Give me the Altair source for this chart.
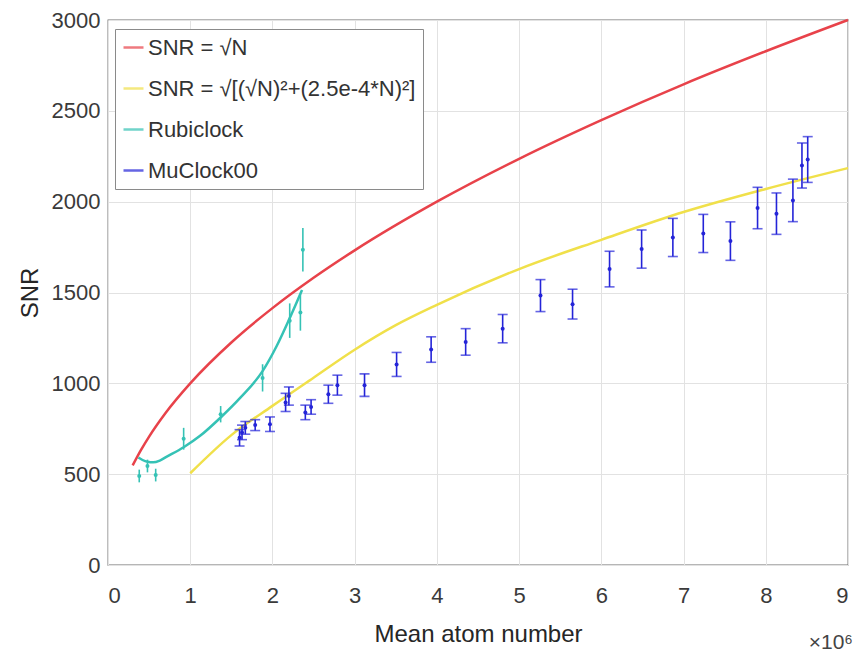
import altair as alt
import pandas as pd

# ---- labels ----
L_SQRT = "SNR = √N"
L_TECH = "SNR = √[(√N)²+(2.5e-4*N)²]"
L_RUBI = "Rubiclock"
L_MU = "MuClock00"
series_order = [L_SQRT, L_TECH, L_RUBI, L_MU]
series_colors = ["#e8424a", "#f0e04a", "#35c2b5", "#2424d8"]

# ---- curves (N in units of 1e6) ----
red_N = [0.3, 0.4, 0.5, 0.7, 1.0, 1.5, 2.0, 2.5, 3.0, 4.0, 5.0, 6.0, 7.0, 8.0, 9.0]
red_SNR = [548, 632, 707, 837, 1000, 1225, 1414, 1581, 1732, 2000, 2236, 2449, 2646, 2828, 3000]

yel_N = [1.0, 1.5, 2.0, 2.5, 3.0, 3.5, 4.0, 5.0, 6.0, 7.0, 8.0, 9.0]
yel_SNR = [505, 715, 876, 1031, 1185, 1320, 1432, 1629, 1790, 1943, 2070, 2185]

fit_N = [0.37, 0.42, 0.48, 0.55, 0.63, 0.71, 0.92, 1.12, 1.37, 1.61, 1.88, 2.05, 2.21, 2.36]
fit_SNR = [592, 578, 568, 565, 575, 595, 648, 711, 812, 921, 1067, 1204, 1359, 1514]

# ---- measured points ----
rubi_N = [0.38, 0.48, 0.58, 0.92, 1.37, 1.88, 2.21, 2.34, 2.37]
rubi_SNR = [490, 545, 495, 695, 830, 1030, 1345, 1390, 1735]
rubi_err = [35, 35, 35, 60, 45, 75, 95, 100, 120]

mu_N = [1.60, 1.63, 1.67, 1.79, 1.97, 2.16, 2.20, 2.40, 2.47, 2.68, 2.79, 3.12, 3.51,
        3.93, 4.35, 4.80, 5.26, 5.65, 6.10, 6.49, 6.87, 7.24, 7.57, 7.90, 8.13, 8.33,
        8.44, 8.51]
mu_SNR = [700, 730, 755, 770, 775, 895, 930, 840, 870, 940, 990, 990, 1104, 1186,
          1228, 1301, 1483, 1436, 1629, 1739, 1803, 1825, 1783, 1965, 1934, 2007,
          2199, 2232]
mu_err = [45, 40, 35, 30, 40, 50, 50, 40, 40, 50, 55, 62, 66, 70, 73, 78, 88, 82,
          98, 105, 105, 105, 106, 114, 114, 117, 124, 126]

x_ticks = [0, 1, 2, 3, 4, 5, 6, 7, 8, 9]
y_ticks = [0, 500, 1000, 1500, 2000, 2500, 3000]

# ---- tables ----
curves = pd.concat([
    pd.DataFrame({"N": red_N, "SNR": red_SNR, "series": L_SQRT, "curve": "a"}),
    pd.DataFrame({"N": yel_N, "SNR": yel_SNR, "series": L_TECH, "curve": "b"}),
    pd.DataFrame({"N": fit_N, "SNR": fit_SNR, "series": L_RUBI, "curve": "c"}),
], ignore_index=True)

points = pd.concat([
    pd.DataFrame({"N": rubi_N, "SNR": rubi_SNR, "err": rubi_err, "series": L_RUBI}),
    pd.DataFrame({"N": mu_N, "SNR": mu_SNR, "err": mu_err, "series": L_MU}),
], ignore_index=True)

FONT = "Liberation Sans"

x_axis = alt.Axis(values=x_ticks, title="Mean atom number", labelPadding=20,
                  titlePadding=16, grid=True, format="d")
y_axis = alt.Axis(values=y_ticks, title="SNR", labelPadding=8, titlePadding=9,
                  grid=True, format="d")
xs = alt.Scale(domain=[0, 9], nice=False)
ys = alt.Scale(domain=[0, 3000], nice=False)

legend = alt.Legend(
    title=None, orient="none", legendX=7, legendY=9,
    symbolType="stroke", symbolStrokeWidth=2.5, symbolSize=400,
    labelFont=FONT, labelFontSize=22, labelColor="#333333", labelLimit=500,
    labelOffset=3, rowPadding=18, padding=7,
    fillColor="white", strokeColor="#8a8a8a", cornerRadius=0,
)
color = alt.Color("series:N", scale=alt.Scale(domain=series_order, range=series_colors),
                  legend=legend)

X = alt.X("N:Q", scale=xs, axis=x_axis)

lines = alt.Chart(curves).mark_line(strokeWidth=2.5, interpolate="monotone").encode(
    x=X, y=alt.Y("SNR:Q", scale=ys, axis=y_axis), color=color, detail="curve:N"
)

bars = alt.Chart(points).transform_calculate(
    lo="datum.SNR - datum.err", hi="datum.SNR + datum.err"
).mark_rule(strokeWidth=1.6).encode(
    x=X, y=alt.Y("lo:Q", scale=ys, axis=y_axis), y2="hi:Q", color=color
)

caps = alt.Chart(points).transform_filter(
    alt.datum.series == L_MU
).transform_calculate(
    lo="datum.SNR - datum.err", hi="datum.SNR + datum.err"
).transform_fold(["lo", "hi"], as_=["end", "val"]).mark_tick(
    orient="horizontal", size=10, thickness=1.6
).encode(
    x=X, y=alt.Y("val:Q", scale=ys, axis=y_axis), color=color
)

dots = alt.Chart(points).mark_circle(size=16, opacity=1).encode(
    x=X, y=alt.Y("SNR:Q", scale=ys, axis=y_axis), color=color
)

chart = alt.layer(lines, bars, caps, dots).properties(
    width=740, height=545,
    autosize=alt.AutoSizeParams(type="none"),
    padding={"left": 100, "top": 12, "right": 12, "bottom": 95},
    title=alt.TitleParams("×10⁶", orient="bottom", anchor="end", font=FONT,
                          fontSize=21, fontWeight="normal", color="#444444",
                          offset=-14),
).configure_axis(
    labelFont=FONT, labelFontSize=22, labelColor="#3a3a3a",
    titleFont=FONT, titleFontSize=24, titleColor="#262626", titleFontWeight="normal",
    gridColor="#e2e2e2", gridWidth=1, ticks=False, domain=False,
).configure_view(stroke="#6e6e6e", strokeWidth=1.3)

chart.save("out.html", embed_options={"renderer": "svg", "actions": False})
